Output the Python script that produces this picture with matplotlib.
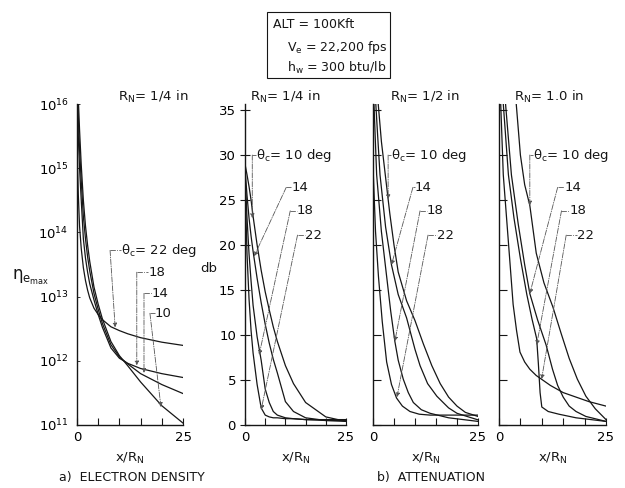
import matplotlib.pyplot as plt
import numpy as np
from matplotlib.patches import Rectangle

plt.rcParams['font.family'] = 'DejaVu Sans'
plt.rcParams['mathtext.fontset'] = 'dejavusans'
plt.rcParams['mathtext.default'] = 'regular'

W, H = 625, 488

# ---- a) electron density, R_N = 1/4 in (log10 of n_e max) ----
a_x = [0, 0.3, 0.6, 1, 1.5, 2, 2.5, 3, 4, 5, 6, 8, 10, 12, 15, 20, 25]
a_log22 = [15.4, 14.6, 14.1, 13.75, 13.45, 13.25, 13.1, 12.98, 12.82, 12.72, 12.64, 12.53, 12.47, 12.42, 12.36, 12.29, 12.24]
a_log18 = [16.2, 15.5, 15.0, 14.5, 13.9, 13.6, 13.38, 13.2, 12.95, 12.72, 12.52, 12.2, 12.04, 11.96, 11.88, 11.8, 11.74]
a_log14 = [16.5, 15.8, 15.3, 14.8, 14.25, 13.9, 13.62, 13.4, 13.05, 12.8, 12.58, 12.25, 12.06, 11.95, 11.8, 11.63, 11.49]
a_log10 = [16.8, 16.1, 15.6, 15.05, 14.5, 14.1, 13.8, 13.55, 13.15, 12.88, 12.65, 12.3, 12.08, 11.92, 11.67, 11.3, 11.03]

# ---- b) attenuation (db), R_N = 1/4 in ----
b1_x = [0, 0.5, 1, 1.5, 2, 3, 4, 5, 6, 7, 8, 10, 12, 15, 20, 25]
b1_db10 = [29, 27.8, 26.5, 25, 23.2, 20, 17.2, 14.8, 12.8, 10.9, 9.3, 6.6, 4.6, 2.5, 0.9, 0.4]
b1_db14 = [28.5, 25.5, 23, 21, 19.3, 16.3, 13.6, 11.2, 9.1, 7.3, 5.8, 2.6, 1.5, 0.8, 0.5, 0.4]
b1_db18 = [28, 23, 19, 16, 13.3, 9.8, 7.2, 4.0, 2.5, 1.5, 1.1, 0.8, 0.7, 0.6, 0.5, 0.5]
b1_db22 = [27, 19, 14, 10.5, 8, 4.5, 1.9, 1.1, 0.9, 0.8, 0.8, 0.7, 0.7, 0.6, 0.6, 0.6]

# ---- R_N = 1/2 in ----
b2_x10 = [1.0, 2, 3, 4, 5, 6, 8, 10, 12, 14, 16, 18, 20, 22, 25]
b2_db10 = [37, 31.5, 27.5, 23.5, 20, 17, 13.8, 11.6, 9.0, 6.6, 4.6, 3.1, 2.1, 1.4, 0.95]
b2_x14 = [0.5, 1, 1.67, 3, 4.4, 6, 8, 10, 11.2, 13, 15.2, 18, 20, 25]
b2_db14 = [37, 33, 27.8, 22, 17.8, 14.5, 11.9, 8.4, 6.6, 4.6, 3.2, 1.9, 1.3, 0.57]
b2_x18 = [0.2, 0.87, 2, 3.25, 4.2, 5.2, 6, 7.2, 8.4, 9.6, 11.5, 13.6, 18, 25]
b2_db18 = [36, 27.8, 21.5, 16.5, 12.7, 9.3, 7.2, 5.1, 3.6, 2.5, 1.7, 1.3, 0.8, 0.4]
b2_x22 = [0, 0.08, 0.6, 1.3, 2.2, 3.25, 4.4, 5.6, 7, 8.8, 11, 13.6, 25]
b2_db22 = [36, 27.8, 21.5, 16.5, 11.5, 7.0, 4.5, 3.0, 2.1, 1.5, 1.2, 1.1, 1.1]

# ---- R_N = 1.0 in ----
b3_x10 = [3.8, 5, 6, 7.2, 8.7, 10.5, 12.6, 14.5, 16.4, 18.3, 20.3, 22.5, 25]
b3_db10 = [37, 30, 26.7, 24.4, 19.1, 15.8, 13.1, 10.2, 7.4, 5.1, 3.2, 1.8, 0.6]
b3_x14 = [1.3, 2.9, 4.5, 6, 7.2, 9, 11, 12.5, 13.7, 15, 16.4, 18, 20.3, 25]
b3_db14 = [37, 27.8, 22.3, 17.8, 14.6, 11.7, 8.9, 6.2, 4.4, 3.1, 2.1, 1.5, 0.95, 0.4]
b3_x18 = [0.8, 2.2, 3.5, 5, 6.5, 7.7, 8.8, 9.2, 9.6, 10, 11.5, 14, 18, 25]
b3_db18 = [37, 27.8, 23, 18.5, 14.5, 11.8, 9.6, 6.8, 3.6, 2.0, 1.5, 1.2, 0.8, 0.4]
b3_x22 = [0.3, 1.0, 2.2, 3.3, 4.1, 4.9, 6, 7.2, 8.7, 9.9, 12, 15, 18, 21, 25]
b3_db22 = [37, 27.8, 20.3, 13.4, 10.5, 8.1, 7.0, 6.2, 5.5, 5.1, 4.4, 3.6, 3.1, 2.6, 2.1]

ink = '#161616'
lead = '#555555'
fs = 9.5

fig = plt.figure(figsize=(W / 100, H / 100), dpi=100)


def add_panel(left, right, top=104, bottom=425):
    ax = fig.add_axes([left / W, 1 - bottom / H, (right - left) / W, (bottom - top) / H])
    for s in ['top', 'right']:
        ax.spines[s].set_visible(False)
    for s in ['left', 'bottom']:
        ax.spines[s].set_linewidth(1.0)
        ax.spines[s].set_color(ink)
    ax.set_xlim(0, 25)
    ax.set_xticks([0, 5, 10, 15, 20, 25])
    ax.set_xticklabels(['0', '', '', '', '', '25'])
    ax.tick_params(axis='x', direction='in', length=5, width=0.8, labelsize=fs, pad=4, color=ink)
    ax.patch.set_alpha(0)
    return ax


def leader(ax, text, tx, ty, kx, target):
    # short horizontal stub then line down to the curve, ending in an arrow
    ax.text(tx, ty, text, ha='left', va='center', fontsize=fs, color=ink)
    ax.plot([kx, tx], [ty, ty], color=lead, lw=0.6, ls='-.', clip_on=False)
    ax.annotate('', xy=target, xytext=(kx, ty), annotation_clip=False,
                arrowprops=dict(arrowstyle='-|>', color=lead, lw=0.6, ls='-.',
                                mutation_scale=6, shrinkA=0, shrinkB=0))


# ---------- panel a ----------
axa = add_panel(77, 183)
axa.set_yscale('log')
axa.set_ylim(1e11, 1e16)
axa.set_yticks([1e11, 1e12, 1e13, 1e14, 1e15, 1e16])
axa.set_yticklabels([r'$10^{%d}$' % k for k in range(11, 17)])
axa.minorticks_off()
axa.tick_params(axis='y', direction='in', length=2, width=0.6, labelsize=fs, pad=6, color=ink)
for lg in [a_log22, a_log18, a_log14, a_log10]:
    axa.plot(a_x, 10 ** np.array(lg), color=ink, lw=0.9)
leader(axa, r'$\theta_c$= 22 deg', 10.3, 10 ** 13.72, 7.8, (9.0, 10 ** 12.52))
leader(axa, '18', 16.8, 10 ** 13.38, 14.1, (14.1, 10 ** 11.93))
leader(axa, '14', 17.7, 10 ** 13.05, 15.8, (15.8, 10 ** 11.81))
leader(axa, '10', 18.4, 10 ** 12.74, 17.2, (19.8, 10 ** 11.28))

# ---------- panels b ----------
panels = [
    (245, 346, [(b1_x, b1_db10), (b1_x, b1_db14), (b1_x, b1_db18), (b1_x, b1_db22)],
     r'R$_{\rm N}$= 1/4 in', 250, (1.8, 23.0),
     [('14', 11.5, 26.4, 10.2, (2.25, 18.75)), ('18', 12.8, 23.8, 11.2, (3.5, 7.8)),
      ('22', 14.8, 21.1, 13.0, (4.0, 1.7))]),
    (373, 478, [(b2_x10, b2_db10), (b2_x14, b2_db14), (b2_x18, b2_db18), (b2_x22, b2_db22)],
     r'R$_{\rm N}$= 1/2 in', 390, (3.6, 25.1),
     [('14', 10.0, 26.4, 9.5, (4.4, 17.8)), ('18', 12.8, 23.8, 11.2, (5.2, 9.3)),
      ('22', 15.2, 21.1, 13.1, (5.7, 3.1))]),
    (499, 606, [(b3_x10, b3_db10), (b3_x14, b3_db14), (b3_x18, b3_db18), (b3_x22, b3_db22)],
     r'R$_{\rm N}$= 1.0 in', 514, (7.2, 24.4),
     [('14', 15.3, 26.4, 13.7, (7.2, 14.6)), ('18', 16.4, 23.8, 14.6, (8.8, 8.9)),
      ('22', 18.3, 21.1, 15.7, (9.95, 5.1))]),
]

for i, (l, r, curves, title, tpx, t10, labs) in enumerate(panels):
    ax = add_panel(l, r)
    ax.set_ylim(0, 35.67)
    ax.set_yticks([0, 5, 10, 15, 20, 25, 30, 35])
    if i == 0:
        ax.tick_params(axis='y', direction='inout', length=7, width=0.8, labelsize=fs, pad=3, color=ink)
    else:
        ax.tick_params(axis='y', direction='in', length=6, width=0.8, labelleft=False, color=ink)
    for cx, cy in curves:
        ax.plot(cx, cy, color=ink, lw=0.9)
    fig.text(tpx / W, 1 - 97 / H, title, fontsize=fs, ha='left', va='center', color=ink)
    # theta_c = 10 deg label with vertical leader
    kx, ky = t10
    leader(ax, r'$\theta_c$= 10 deg', kx + 0.8, 30.0, kx, (kx, ky))
    for txt, tx, ty, kxx, tgt in labs:
        leader(ax, txt, tx, ty, kxx, tgt)
    fig.text(((l + r) / 2) / W, 1 - 458 / H, r'x/R$_{\rm N}$', fontsize=fs, ha='center', va='center', color=ink)

fig.text(130 / W, 1 - 458 / H, r'x/R$_{\rm N}$', fontsize=fs, ha='center', va='center', color=ink)
fig.text(118 / W, 1 - 97 / H, r'R$_{\rm N}$= 1/4 in', fontsize=fs, ha='left', va='center', color=ink)
fig.text(12 / W, 1 - 277 / H, r'$\eta_{e_{max}}$', fontsize=12, ha='left', va='center', color=ink)
fig.text(200 / W, 1 - 268 / H, 'db', fontsize=fs, ha='left', va='center', color=ink)

fig.text(132 / W, 1 - 477 / H, 'a)  ELECTRON DENSITY', fontsize=9, ha='center', va='center', color=ink)
fig.text(431 / W, 1 - 477 / H, 'b)  ATTENUATION', fontsize=9, ha='center', va='center', color=ink)

# conditions box
fig.patches.append(Rectangle((267 / W, 1 - 78 / H), 123 / W, 66 / H, transform=fig.transFigure,
                             fill=False, lw=0.8, ec=ink))
fig.text(273 / W, 1 - 24 / H, 'ALT = 100Kft', fontsize=9, ha='left', va='center', color=ink)
fig.text(287 / W, 1 - 47 / H, r'V$_{\rm e}$ = 22,200 fps', fontsize=9, ha='left', va='center', color=ink)
fig.text(287 / W, 1 - 68 / H, r'h$_{\rm w}$ = 300 btu/lb', fontsize=9, ha='left', va='center', color=ink)

fig.savefig('out.png', dpi=100, facecolor='white')
